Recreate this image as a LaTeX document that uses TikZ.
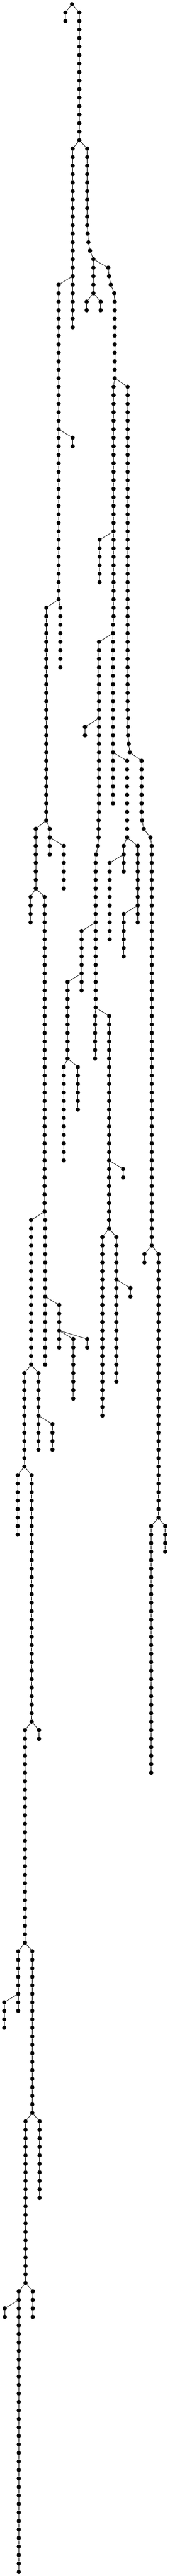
\documentclass[tikz,border=0pt]{standalone}
\usetikzlibrary{shapes.geometric}
\tikzset{
  dot/.style={circle, fill=black, draw=none, inner sep=0pt, minimum size=10.2pt},
  edge/.style={draw=black, line width=1pt}
}
\newcommand{\mkchain}[4]{%
  \foreach \r in {#3,...,#4}{\node[dot] (#1-\r) at (#2,\r) {};}%
  \foreach \r in {#3,...,#4}{%
    \ifnum\r>#3\relax
      \pgfmathtruncatemacro{\prevr}{\r-1}%
      \draw[edge] (#1-\prevr) -- (#1-\r);%
    \fi}%
}
\newcommand{\nd}[3]{\node[dot] (#1-#3) at (#2,#3) {};}
\newcommand{\lnk}[2]{\draw[edge] (#1) -- (#2);}
\begin{document}
\begin{tikzpicture}[x=0.333333pt, y=-20.27pt]
\useasboundingbox (0,-0.48347) rectangle (1209,302.4757);
% top
\mkchain{A}{513}{0}{0}
\mkchain{B}{466}{1}{2} \lnk{A-0}{B-1}
\mkchain{C}{566}{1}{16} \lnk{A-0}{C-1}
\mkchain{D}{518}{17}{38} \lnk{C-16}{D-17}
% E
\mkchain{E}{622}{17}{26} \lnk{C-16}{E-17}
\nd{E}{625}{27} \nd{E}{630}{28} \nd{E}{642}{29}
\mkchain{E}{666}{30}{34}
\lnk{E-26}{E-27} \lnk{E-27}{E-28} \lnk{E-28}{E-29} \lnk{E-29}{E-30}
% F
\nd{F}{772}{31} \nd{F}{778}{32} \nd{F}{790}{33} \nd{F}{815}{34}
\mkchain{F}{818}{35}{44}
\lnk{E-30}{F-31} \lnk{F-31}{F-32} \lnk{F-32}{F-33} \lnk{F-33}{F-34} \lnk{F-34}{F-35}
\mkchain{G}{618}{35}{36} \lnk{E-34}{G-35}
\mkchain{H}{718}{35}{36} \lnk{E-34}{H-35}
\mkchain{I}{418}{33}{70} \lnk{D-32}{I-33}
\mkchain{J}{518}{51}{52} \lnk{I-50}{J-51}
% K
\mkchain{K}{810}{45}{72} \lnk{F-44}{K-45}
\mkchain{K}{806}{73}{94} \lnk{K-72}{K-73}
\mkchain{L}{710}{63}{68} \lnk{K-62}{L-63}
% O
\mkchain{O}{910}{45}{83} \lnk{F-44}{O-45}
\mkchain{O}{913}{84}{86} \lnk{O-83}{O-84}
\nd{O}{918}{87} \nd{O}{926}{88}
\mkchain{O}{1010}{89}{95}
\lnk{O-86}{O-87} \lnk{O-87}{O-88} \lnk{O-88}{O-89}
\nd{O}{1013}{96} \nd{O}{1025}{97} \nd{O}{1073}{98}
\mkchain{O}{1082}{99}{146}
\lnk{O-95}{O-96} \lnk{O-96}{O-97} \lnk{O-97}{O-98} \lnk{O-98}{O-99}
\mkchain{OA}{1030}{147}{148} \lnk{O-146}{OA-147}
\mkchain{OB}{1130}{147}{178} \lnk{O-146}{OB-147}
\mkchain{OC}{1078}{179}{208} \lnk{OB-178}{OC-179}
\mkchain{OD}{1178}{179}{182} \lnk{OB-178}{OD-179}
% P, Q
\mkchain{P}{330}{71}{96} \lnk{I-70}{P-71}
\mkchain{Q}{430}{71}{78} \lnk{I-70}{Q-71}
% M
\mkchain{M}{706}{75}{95} \lnk{K-74}{M-75}
\mkchain{M}{703}{96}{98} \lnk{M-95}{M-96}
\nd{M}{698}{99} \nd{M}{686}{100}
\mkchain{M}{682}{101}{118}
\lnk{M-98}{M-99} \lnk{M-99}{M-100} \lnk{M-100}{M-101}
\mkchain{M}{678}{119}{124} \lnk{M-118}{M-119}
\mkchain{R}{606}{85}{86} \lnk{M-84}{R-85}
% N branch
\mkchain{N}{906}{89}{98} \lnk{K-88}{N-89}
\mkchain{U}{882}{99}{102} \lnk{N-98}{U-99}
\mkchain{V}{782}{101}{110} \lnk{U-100}{V-101}
\mkchain{W}{982}{99}{108} \lnk{N-98}{W-99}
\mkchain{X}{882}{107}{112} \lnk{W-106}{X-107}
% left lineage
\mkchain{Y}{255}{97}{104} \lnk{P-96}{Y-97}
\mkchain{Z}{355}{97}{100} \lnk{P-96}{Z-97}
\mkchain{AA}{455}{99}{104} \lnk{Z-98}{AA-99}
\mkchain{AB}{218}{105}{108} \lnk{Y-104}{AB-105}
\mkchain{AC}{318}{105}{142} \lnk{Y-104}{AC-105}
\mkchain{AD}{222}{143}{160} \lnk{AC-142}{AD-143}
\mkchain{AE}{322}{143}{160} \lnk{AC-142}{AE-143}
\mkchain{AF}{422}{153}{158} \lnk{AE-152}{AF-153}
\mkchain{AG}{522}{157}{164} \lnk{AF-156}{AG-157}
\mkchain{AH}{622}{157}{158} \lnk{AF-156}{AH-157}
\mkchain{AI}{174}{161}{172} \lnk{AD-160}{AI-161}
\mkchain{AJ}{274}{161}{170} \lnk{AD-160}{AJ-161}
\mkchain{AK}{374}{167}{170} \lnk{AJ-166}{AK-167}
\mkchain{AL}{126}{173}{180} \lnk{AI-172}{AL-173}
\mkchain{AM}{226}{173}{202} \lnk{AI-172}{AM-173}
\mkchain{AN}{178}{203}{228} \lnk{AM-202}{AN-203}
\mkchain{AO}{278}{203}{204} \lnk{AM-202}{AO-203}
\mkchain{AP}{130}{229}{236} \lnk{AN-228}{AP-229}
\mkchain{AQ}{230}{229}{248} \lnk{AN-228}{AQ-229}
\mkchain{AR}{30}{235}{238} \lnk{AP-234}{AR-235}
\mkchain{AS}{182}{249}{268} \lnk{AQ-248}{AS-249}
\mkchain{AT}{282}{249}{258} \lnk{AQ-248}{AT-249}
\mkchain{AU}{134}{269}{302} \lnk{AS-268}{AU-269}
\mkchain{AV}{234}{269}{272} \lnk{AS-268}{AV-269}
\mkchain{AW}{34}{271}{272} \lnk{AU-270}{AW-271}
% S, T
\mkchain{S}{582}{109}{116} \lnk{M-108}{S-109}
\mkchain{SA}{482}{115}{124} \lnk{S-114}{SA-115}
\mkchain{SB}{455}{125}{136} \lnk{SA-124}{SB-125}
\mkchain{SC}{555}{125}{130} \lnk{SA-124}{SC-125}
\mkchain{T}{778}{119}{144} \lnk{M-118}{T-119}
\mkchain{TA}{878}{137}{138} \lnk{T-136}{TA-137}
\mkchain{TB}{730}{145}{166} \lnk{T-144}{TB-145}
\mkchain{TC}{830}{145}{162} \lnk{T-144}{TC-145}
\mkchain{TD}{930}{151}{152} \lnk{TC-150}{TD-151}
\end{tikzpicture}
\end{document}
